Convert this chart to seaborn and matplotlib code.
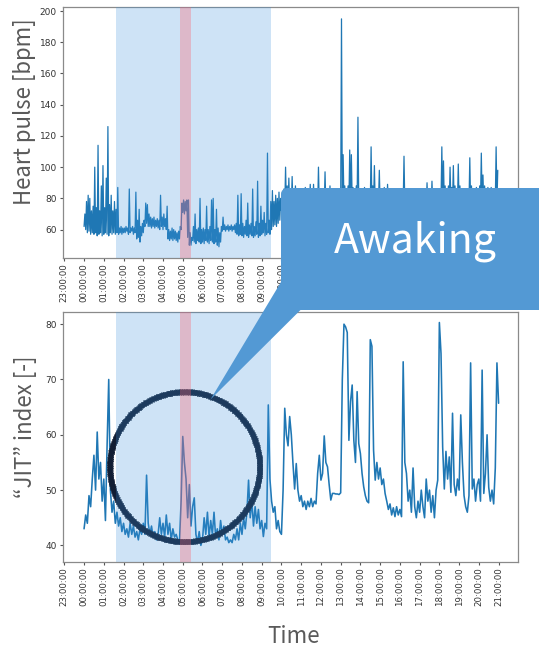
import matplotlib
matplotlib.use("Agg")
import matplotlib.pyplot as plt
import matplotlib.dates as mdates
from matplotlib.patches import FancyBboxPatch, Polygon
from matplotlib.transforms import Affine2D
import numpy as np
import pandas as pd
import seaborn as sns

# Heart pulse [bpm]: lowest and highest reading in each 5-minute bin, 00:00 - 20:55
pulse_low = [
    62, 60, 58, 59, 57, 58, 57, 58, 56, 57, 58, 56,
    57, 58, 57, 56, 58, 57, 58, 57, 58, 57, 58, 57,
    58, 58, 59, 57, 58, 59, 57, 58, 54, 55, 52, 56,
    58, 62, 64, 62, 62, 61, 62, 61, 62, 61, 60, 62,
    60, 62, 60, 54, 53, 54, 53, 54, 53, 52, 54, 60,
    71, 70, 72, 55, 50, 50, 53, 52, 51, 53, 52, 51,
    52, 51, 53, 52, 51, 53, 52, 51, 52, 50, 49, 52,
    59, 60, 59, 60, 59, 60, 59, 60, 58, 57, 56, 57,
    56, 55, 57, 56, 55, 57, 56, 55, 56, 57, 55, 56,
    57, 58, 56, 57, 58, 57, 60, 62, 63, 62, 64, 66,
    72, 74, 73, 75, 74, 73, 75, 74, 73, 75, 74, 73,
    74, 73, 75, 74, 73, 75, 74, 73, 75, 74, 73, 75,
    74, 73, 75, 74, 73, 75, 74, 73, 75, 74, 73, 75,
    76, 78, 77, 76, 78, 77, 76, 78, 77, 76, 78, 77,
    76, 75, 77, 76, 75, 77, 76, 75, 77, 76, 75, 77,
    75, 74, 76, 75, 74, 76, 75, 74, 76, 75, 74, 76,
    75, 74, 76, 75, 74, 76, 75, 74, 76, 75, 74, 76,
    75, 74, 76, 75, 74, 76, 75, 74, 76, 75, 74, 76,
    76, 78, 77, 76, 78, 77, 76, 78, 77, 76, 78, 77,
    76, 75, 77, 76, 75, 77, 76, 75, 77, 76, 75, 77,
    76, 78, 77, 76, 78, 77, 76, 78, 77, 76, 78, 77,
]
pulse_high = [
    70, 78, 82, 80, 72, 75, 100, 74, 114, 72, 88, 101,
    74, 93, 126, 76, 82, 72, 78, 73, 87, 61, 62, 61,
    61, 62, 61, 86, 61, 62, 61, 84, 66, 73, 62, 64,
    66, 77, 76, 70, 68, 67, 68, 66, 67, 66, 82, 68,
    70, 67, 75, 60, 59, 61, 60, 59, 58, 59, 62, 77,
    79, 78, 79, 79, 58, 55, 62, 70, 60, 61, 80, 60,
    61, 60, 75, 60, 62, 79, 80, 60, 73, 61, 58, 62,
    68, 63, 62, 63, 62, 63, 62, 63, 64, 82, 63, 83,
    64, 62, 66, 77, 63, 64, 86, 62, 65, 91, 64, 75,
    66, 71, 64, 109, 66, 78, 85, 78, 82, 80, 84, 80,
    84, 86, 100, 88, 93, 86, 94, 85, 88, 84, 86, 85,
    86, 84, 87, 85, 86, 89, 85, 89, 84, 86, 100, 85,
    86, 84, 97, 85, 86, 88, 84, 86, 85, 84, 86, 85,
    195, 108, 88, 86, 88, 111, 108, 87, 86, 88, 132, 86,
    86, 85, 87, 85, 86, 84, 113, 88, 101, 86, 85, 98,
    86, 85, 87, 84, 89, 85, 84, 86, 85, 86, 84, 85,
    85, 84, 107, 86, 85, 86, 84, 85, 84, 86, 85, 86,
    84, 86, 85, 84, 90, 86, 85, 91, 86, 84, 86, 85,
    86, 113, 104, 88, 86, 88, 100, 87, 101, 88, 86, 102,
    88, 85, 86, 84, 86, 85, 106, 88, 86, 85, 87, 86,
    88, 109, 95, 88, 86, 87, 85, 87, 86, 85, 113, 98,
]

# "JIT" index [-], one sample every 5 minutes from 00:00 to 21:00
jit_index = [
    43, 45.5, 44, 49, 47, 52, 56.3, 50, 60.5, 52, 55, 48,
    52, 44.5, 58, 70, 50, 46, 48, 44, 46, 43.5, 45, 42.5,
    44, 42, 43, 41.5, 44, 42, 43.5, 41.5, 42.5, 41, 43, 42,
    44, 42, 52.7, 44, 42, 43.5, 41.5, 42.5, 41, 42, 45, 42,
    44, 41.5, 45.5, 42, 44, 41, 43, 41.5, 42, 41, 40.5, 48,
    59.7, 55, 52, 45, 51, 43.5, 47, 48.6, 42, 40.5, 42.5, 40,
    41, 45, 42, 46, 41.5, 44.5, 42, 46, 41.5, 43, 41, 44.5,
    42, 43.5, 41, 41.5, 40.5, 41, 40.5, 42, 41, 43, 41, 44,
    42, 45, 43, 46, 51.8, 45, 48, 43.5, 47, 44, 46.5, 43,
    44.5, 41.6, 44, 43, 65.4, 52, 48, 46, 47, 43, 44.5, 42.5,
    42, 50, 64.8, 60, 58, 63.3, 60, 54.8, 50.2, 54.8, 50, 48,
    49, 47, 48, 46.5, 48, 47, 48.5, 47, 48, 47.5, 53, 56.3,
    51.8, 53, 59.8, 55, 54.2, 51, 48.2, 49.4, 49.4, 49.3, 49.3, 49.2,
    49.5, 70, 80, 79.5, 78.5, 59, 66, 69, 59, 55, 67.8, 58.4,
    56.6, 53, 50.6, 49, 48, 47.7, 77.2, 76, 57.2, 51.8, 55, 52,
    54, 51, 52, 49.4, 48, 46.5, 47.5, 45.5, 46.8, 45.2, 47, 45.5,
    46.5, 45.2, 73.2, 55, 53, 48, 50, 46, 54, 47, 45, 48,
    46, 50, 47, 45, 52, 48, 50, 46, 49, 45, 50, 51.8,
    80.3, 74.7, 57.8, 50.2, 57, 52, 56, 49.6, 63.9, 51, 49, 52,
    50, 63.6, 55, 49, 47, 46, 49, 73, 50.2, 52, 48, 51,
    52, 48, 71.7, 49.4, 53, 60, 50.5, 48, 50, 47.5, 54, 73,
    65.7,
]

# Sleep period and awakening period
sleep_period = ("2020-01-02 01:37", "2020-01-02 09:28")
awake_period = ("2020-01-02 04:51", "2020-01-02 05:24")

ylabel_top = "Heart pulse [bpm]"
ylabel_bottom = "“JIT” index [-]"
xlabel = "Time"
callout_text = "Awaking"

sns.set_style("ticks", {"axes.edgecolor": "#8a8a8a", "xtick.color": "#555555",
                        "ytick.color": "#555555"})
plt.rcParams["font.family"] = ["DejaVu Sans"]
label_family = ["Noto Sans CJK JP", "DejaVu Sans"]

W, H = 539, 650
fig = plt.figure(figsize=(W / 100, H / 100), dpi=100)
# pixel coordinates measured from the top-left corner of the figure
px = Affine2D().scale(1 / 100, -1 / 100).translate(0, H / 100) + fig.dpi_scale_trans

ax1 = fig.add_axes([63 / W, (H - 258) / H, 455 / W, 251 / H])
ax2 = fig.add_axes([63 / W, (H - 562) / H, 455 / W, 250 / H])

# envelope of each 5-minute bin: low at the bin start, high half way through
bins = pd.date_range("2020-01-02 00:00", periods=len(pulse_low), freq="5min")
pulse = pd.DataFrame({
    "time": np.concatenate([bins, bins + pd.Timedelta("150s")]),
    "bpm": np.concatenate([pulse_low, pulse_high]),
}).sort_values("time")
jit = pd.DataFrame({
    "time": pd.date_range("2020-01-02 00:00", periods=len(jit_index), freq="5min"),
    "jit": jit_index,
})

line_color = "#1f77b4"
sns.lineplot(data=pulse, x="time", y="bpm", ax=ax1, color=line_color, lw=0.9,
             estimator=None, sort=False)
sns.lineplot(data=jit, x="time", y="jit", ax=ax2, color=line_color, lw=1.15,
             estimator=None)

for ax in (ax1, ax2):
    ax.axvspan(pd.Timestamp(sleep_period[0]), pd.Timestamp(sleep_period[1]),
               color="#3d93dd", alpha=0.25, lw=0, zorder=3)
    ax.axvspan(pd.Timestamp(awake_period[0]), pd.Timestamp(awake_period[1]),
               color="#ff5f6a", alpha=0.32, lw=0, zorder=3.1)
    ax.set_xlim(pd.Timestamp("2020-01-01 22:56"), pd.Timestamp("2020-01-02 21:59"))
    ax.xaxis.set_major_locator(mdates.HourLocator())
    ax.xaxis.set_major_formatter(mdates.DateFormatter("%H:%M:%S"))
    ax.tick_params(axis="x", rotation=90, labelsize=6.2, length=2.5, pad=1.5,
                   labelcolor="#333333")
    ax.tick_params(axis="y", labelsize=6.5, length=2.5, pad=2, labelcolor="#333333")
    ax.set_xlabel("")
    ax.set_ylabel("")
    for s in ax.spines.values():
        s.set_linewidth(0.9)

ax1.set_ylim(41.8, 202.6)
ax1.set_yticks(range(60, 201, 20))
ax2.set_ylim(37.0, 82.2)
ax2.set_yticks(range(40, 81, 10))

# hand-drawn style ring around the awakening peak
cx, cy, R = 184.7, 466.7, 75.0
ang = np.linspace(0, 2 * np.pi, 2600, endpoint=False)
offs = np.tile([-1.6, 0.3, 1.5, -0.8, 0.9, -0.3, 1.8, -1.3, 0.6, -0.1, 1.2, -1.8, 0.0],
               250)[:ang.size]
ax2.scatter(cx + (R + offs) * np.cos(ang), cy + (R + offs) * np.sin(ang),
            marker="x", s=2.2, linewidths=0.65, color="#111d33", transform=px,
            zorder=2.5, clip_on=False)

# axis titles
gray = "#5a5a5a"
fig.text(25, 112, ylabel_top, transform=px, rotation=90, ha="center", va="center",
         fontsize=16, color=gray, family=label_family)
fig.text(25, 427, ylabel_bottom, transform=px, rotation=90, ha="center", va="center",
         fontsize=16, color=gray, family=label_family)
fig.text(293, 643, xlabel, transform=px, ha="center", va="baseline",
         fontsize=16, color=gray, family=label_family)

# callout
callout_color = "#5399d4"
box = FancyBboxPatch((281, 188), 300, 122, boxstyle="round,pad=0,rounding_size=7",
                     transform=px, facecolor=callout_color, edgecolor="none", zorder=10)
fig.add_artist(box)
tail = Polygon([(281, 282), (210.5, 399.5), (301, 309.5), (301, 290), (281, 290)],
               closed=True, transform=px, facecolor=callout_color, edgecolor="none",
               zorder=10)
fig.add_artist(tail)
fig.text(415.5, 252, callout_text, transform=px, ha="center", va="baseline",
         fontsize=29.5, color="white", family=label_family, zorder=11)

fig.savefig("out.png", dpi=100)
